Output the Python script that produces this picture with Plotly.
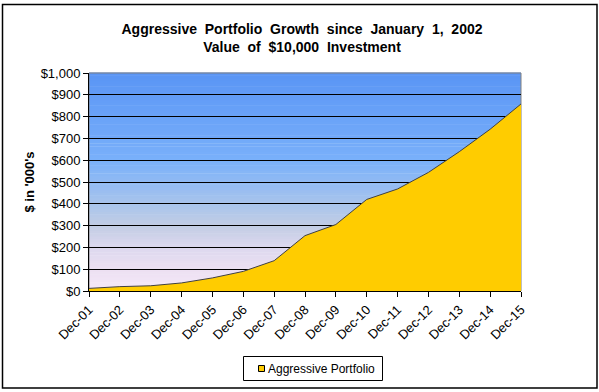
import plotly.graph_objects as go

categories = ["Dec-01", "Dec-02", "Dec-03", "Dec-04", "Dec-05", "Dec-06", "Dec-07", "Dec-08",
              "Dec-09", "Dec-10", "Dec-11", "Dec-12", "Dec-13", "Dec-14", "Dec-15"]
portfolio = [12, 20, 24, 37, 60, 90, 139, 254, 305, 420, 468, 544, 639, 742, 858]
series_name = "Aggressive Portfolio"
y_ticks = list(range(0, 1001, 100))
y_ticktext = ["${:,}".format(v) for v in y_ticks]

FONT = "Liberation Sans, Arial, sans-serif"
W, H = 599, 392
L, R, T, B = 89, 521, 73, 291
PW, PH = R - L, B - T

def px(x):
    return (x - L) / PW

def py(y):
    return (B - y) / PH

fig = go.Figure()
fig.add_trace(go.Scatter(
    x=categories, y=portfolio, name=series_name, showlegend=False,
    mode="lines", fill="tozeroy", fillcolor="#FFCC00",
    line=dict(color="#404040", width=1),
))

# vertical gradient background for plot area
stops = [(0.0, (246, 232, 248)), (0.1, (236, 224, 242)), (0.2, (220, 216, 238)),
         (0.3, (194, 205, 228)), (0.4, (168, 196, 236)), (0.6, (121, 176, 250)),
         (1.0, (90, 149, 245))]

def col(t):
    for (a, ca), (b, cb) in zip(stops[:-1], stops[1:]):
        if a <= t <= b:
            f = (t - a) / (b - a)
            return "rgb(%d,%d,%d)" % tuple(round(ca[i] + (cb[i] - ca[i]) * f) for i in range(3))
    return "rgb(%d,%d,%d)" % stops[-1][1]

N = 80
shapes = []
for i in range(N):
    y0 = i / N
    y1 = (i + 1) / N
    shapes.append(dict(type="rect", xref="x domain", yref="y domain", x0=0, x1=1, y0=y0, y1=y1 + 0.002,
                       fillcolor=col((y0 + y1) / 2), line=dict(width=0), layer="below"))
shapes.append(dict(type="rect", xref="x domain", yref="y domain", x0=0, x1=1, y0=0, y1=1,
                   line=dict(color="#808080", width=1), fillcolor="rgba(0,0,0,0)", layer="below"))
# chart outer border
shapes.append(dict(type="rect", xref="paper", yref="paper", x0=px(2.5), x1=px(597),
                   y0=py(388), y1=py(4.5),
                   line=dict(color="black", width=1.5), fillcolor="rgba(0,0,0,0)"))
# legend box and swatch
shapes.append(dict(type="rect", xref="paper", yref="paper", x0=px(243.5), x1=px(382.5),
                   y0=py(380.5), y1=py(356.5),
                   line=dict(color="black", width=1), fillcolor="white"))
shapes.append(dict(type="rect", xref="paper", yref="paper", x0=px(258.5), x1=px(264.5),
                   y0=py(371.5), y1=py(365.5),
                   line=dict(color="black", width=1), fillcolor="#FFCC00"))

annotations = [dict(text=series_name, xref="paper", yref="paper", x=px(266), y=py(368.5),
                    xanchor="left", yanchor="middle", showarrow=False,
                    font=dict(family=FONT, size=12, color="black"))]

fig.update_layout(
    width=W, height=H,
    margin=dict(l=L, r=W - R, t=T, b=H - B),
    paper_bgcolor="white", plot_bgcolor="rgba(0,0,0,0)",
    font=dict(family=FONT, size=13, color="black"),
    title=dict(text="<b>Aggressive  Portfolio  Growth  since  January  1,  2002<br>Value  of  $10,000  Investment</b>",
               x=px(302), xref="paper", xanchor="center", y=1 - 34/H, yanchor="top",
               font=dict(family=FONT, size=14, color="black")),
    shapes=shapes,
    annotations=annotations,
    showlegend=False,
    xaxis=dict(type="category", range=[0, 14], tickangle=-45, ticks="outside", ticklen=5,
               tickcolor="black", showline=True, linecolor="black", linewidth=1,
               showgrid=False, tickfont=dict(size=13), automargin=False),
    yaxis=dict(range=[0, 1000], tickvals=y_ticks, ticktext=y_ticktext,
               ticks="outside", ticklen=5, tickcolor="black", showline=True, linecolor="black",
               showgrid=True, gridcolor="black", gridwidth=1, zeroline=False,
               title=dict(text="<b>$ in '000's</b>", font=dict(size=13), standoff=3),
               tickfont=dict(size=13), automargin=False),
)

fig.write_html("out.html", config={"displayModeBar": False},
               post_script="document.body.style.margin='0';document.body.style.overflow='hidden';")
